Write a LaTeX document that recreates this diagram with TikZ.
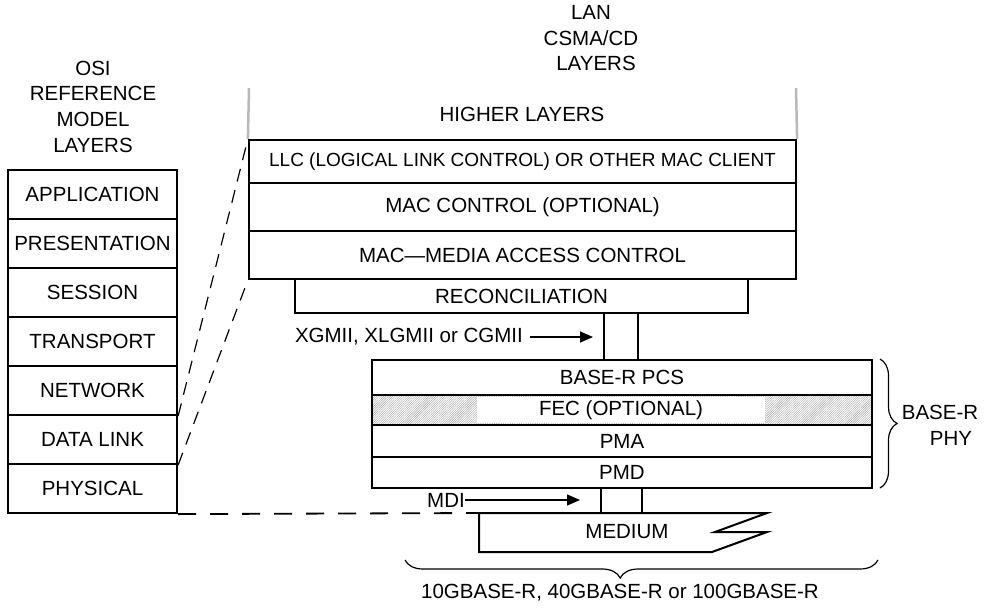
\documentclass[tikz,border=0pt]{standalone}
\usepackage{fontspec}
\setmainfont{Liberation Sans}
\usetikzlibrary{arrows.meta,patterns.meta,decorations.pathreplacing}
\begin{document}
\begin{tikzpicture}[x=1pt,y=-1pt,
  every node/.style={font=\fontsize{20.5}{24}\selectfont, inner sep=0pt},
  lay/.style={draw, line width=2.2pt, rectangle, minimum width=#1},
  thinl/.style={line width=1.4pt},
  dashl/.style={line width=1.2pt, dash pattern=on 13pt off 9pt},
  dashb/.style={line width=1.8pt, dash pattern=on 18pt off 14pt},
  arr/.style={line width=1.4pt, -{Triangle[length=13pt,width=11pt]}},
  hatch/.style={pattern={Lines[angle=45,distance=1.6pt,line width=0.4pt]}, pattern color=gray!75},
  brc/.style={decorate, line width=1.2pt},
  grayl/.style={line width=2.5pt, gray!55}
]
\useasboundingbox (0,0) rectangle (998,608);

% titles
\node (osi1) at (93,68) {OSI};
\node (osi2) at (93,93) {REFERENCE};
\node (osi3) at (93,119) {MODEL};
\node (osi4) at (93,145) {LAYERS};
\node (lan1) at (591,12) {LAN};
\node (lan2) at (591,38) {CSMA/CD};
\node (lan3) at (596,63) {LAYERS};
\node (hl) at (522,114) {HIGHER LAYERS};

% OSI stack
\node[lay=169, minimum height=49] (app)   at (92.5,194.5) {APPLICATION};
\node[lay=169, minimum height=49] (pres)  at (92.5,243.5) {PRESENTATION};
\node[lay=169, minimum height=49] (sess)  at (92.5,292.5) {SESSION};
\node[lay=169, minimum height=49] (trans) at (92.5,341.5) {TRANSPORT};
\node[lay=169, minimum height=49] (net)   at (92.5,390.5) {NETWORK};
\node[lay=169, minimum height=49] (dl)    at (92.5,439.5) {DATA LINK};
\node[lay=169, minimum height=49] (phys)  at (92.5,488.5) {PHYSICAL};

% LAN stack
\node[lay=547, minimum height=43, font=\fontsize{19}{22}\selectfont] (llc)  at (522.5,161.5) {LLC (LOGICAL LINK CONTROL) OR OTHER MAC CLIENT};
\node[lay=547, minimum height=48] (macc) at (522.5,207) {MAC CONTROL (OPTIONAL)};
\node[lay=547, minimum height=48] (mac)  at (522.5,255) {MAC\textemdash MEDIA ACCESS CONTROL};
\node[lay=453, minimum height=34] (rs)   at (521.5,296) {RECONCILIATION};

\draw[grayl] (249,88) -- (llc.north west);
\draw[grayl] (796,88) -- (llc.north east);

% PHY stack
\fill[hatch] (372,395) rectangle (872,425);
\fill[white] (477,397) rectangle (765,423);
\node[lay=500, minimum height=35] (pcs) at (622,377.5) {BASE-R PCS};
\node[lay=500, minimum height=30] (fec) at (622,410) {};
\node (fect) at (621,410) {FEC (OPTIONAL)};
\node[lay=500, minimum height=32] (pma) at (622,441) {PMA};
\node[lay=500, minimum height=31] (pmd) at (622,472.5) {PMD};

% XGMII
\coordinate (x1t) at (604,313); \coordinate (x1b) at (604,360);
\coordinate (x2t) at (638,313); \coordinate (x2b) at (638,360);
\draw[thinl] (x1t) -- (x1b);
\draw[thinl] (x2t) -- (x2b);
\node[anchor=east] (xg) at (523,337) {XGMII, XLGMII or CGMII};
\coordinate (xgtip) at (593,337);
\draw[arr] ([xshift=7pt]xg.east) -- (xgtip);

% medium
\draw[line width=2pt] (479,513) -- (767,513) -- (715,532) -- (767,532) -- (712,552) -- (479,552) -- cycle;
\node (med) at (627,532) {MEDIUM};
\coordinate (m1t) at (601,488); \coordinate (m1b) at (601,513);
\coordinate (m2t) at (642,488); \coordinate (m2b) at (642,513);
\draw[thinl] (m1t) -- (m1b);
\draw[thinl] (m2t) -- (m2b);
\node[anchor=east] (mdi) at (465,500) {MDI};
\coordinate (mditip) at (580,500);
\draw[arr] (mdi.east) -- (mditip);

% dashed mappings
\draw[dashl] (net.south east) -- (llc.north west);
\draw[dashl] (dl.south east) -- (mac.south west);
\coordinate (medtl) at (479,513);
\draw[dashb] (phys.south east) -- (medtl);

% braces
\draw[brc, decoration={brace, amplitude=17pt}] (880,359) -- (880,488);
\node (bp1) at (940,412) {BASE-R};
\node (bp2) at (951,438) {PHY};
\draw[brc, decoration={brace, amplitude=18pt, aspect=0.545}] (878,560) -- (405,560);
\node (bot) at (620,593) {10GBASE-R, 40GBASE-R or 100GBASE-R};
\end{tikzpicture}
\end{document}
